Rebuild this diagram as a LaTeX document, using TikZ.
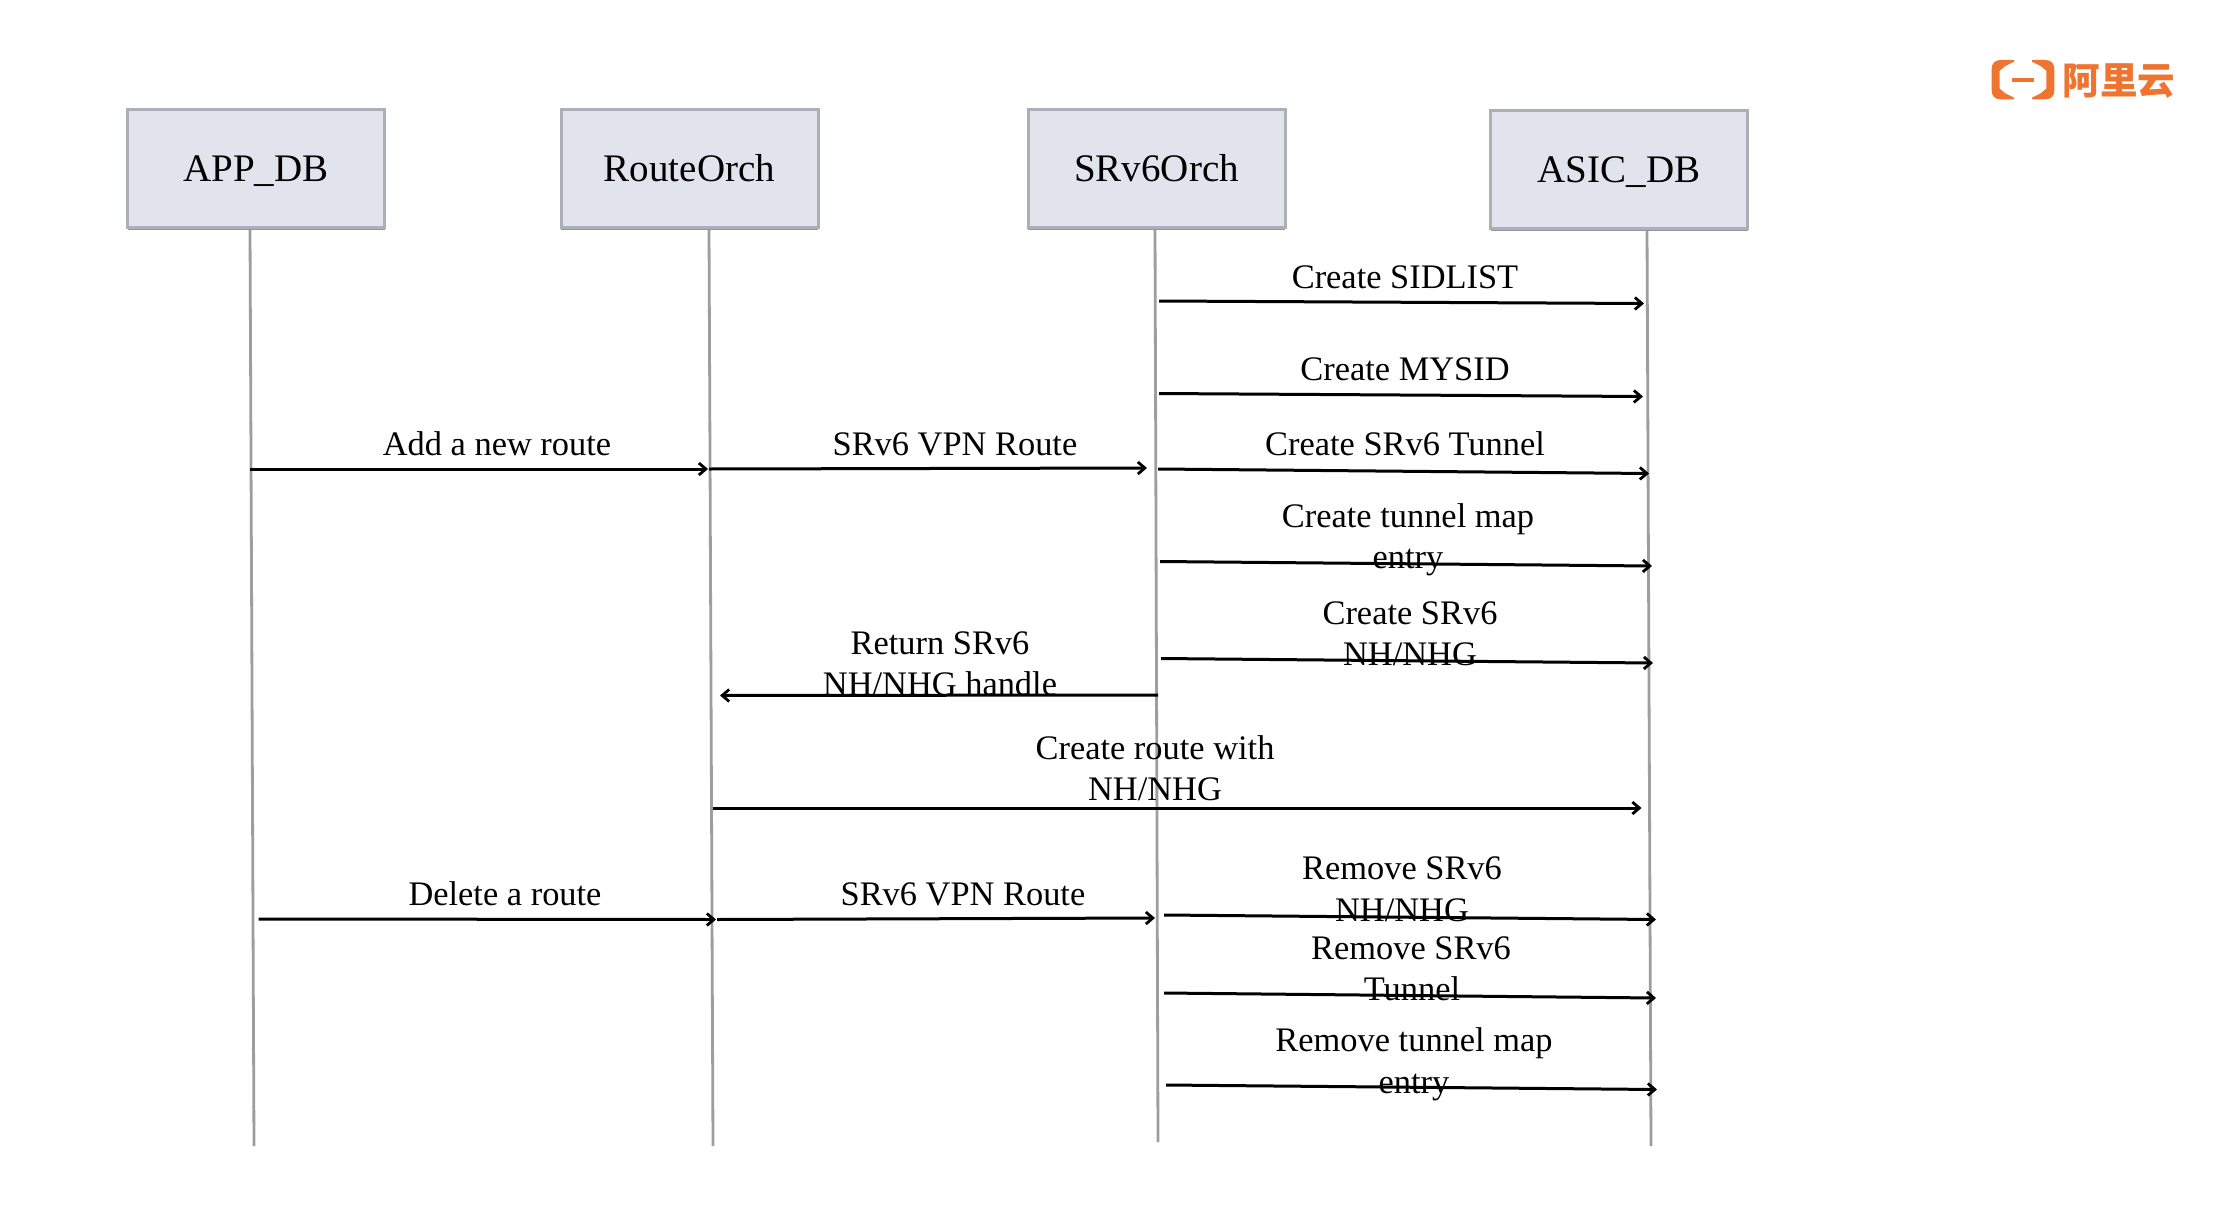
\documentclass[tikz,border=0pt]{standalone}
\usepackage{fontspec}
\setmainfont{Liberation Serif}
\newfontfamily\cjklogo{Noto Sans CJK SC}
\usetikzlibrary{arrows.meta,shadows}
\definecolor{boxfill}{HTML}{E1E4EC}
\definecolor{boxline}{HTML}{ABAFB8}
\definecolor{boxshade}{HTML}{9296A0}
\definecolor{lifeline}{HTML}{9E9E9E}
\definecolor{logoorange}{HTML}{EF7430}
\tikzset{
  actor/.style={draw=boxline,line width=3pt,fill=boxfill,minimum width=257pt,minimum height=118pt,
    inner sep=0pt,text height=34pt,text depth=8pt,font=\fontsize{39}{46}\selectfont,
    general shadow={shadow xshift=0pt,shadow yshift=-2.5pt,fill=boxshade}},
  life/.style={draw=lifeline,line width=2.8pt},
  msgarrow/.style={draw=black,line width=3pt,-{Straight Barb[length=7pt,width=12pt,line width=2.8pt]}},
  msg/.style={font=\fontsize{34.4}{41}\selectfont,inner sep=0pt,anchor=base,align=center,text=black},
  logoshape/.style={fill=logoorange,draw=none}
}
\begin{document}
\begin{tikzpicture}[x=1pt,y=-1pt]
\useasboundingbox (0,0) rectangle (2214,1226);
\fill[white] (0,0) rectangle (2214,1226);
% lifeline ends
\coordinate (lA1) at (250,228);  \coordinate (lA2) at (254,1146);
\coordinate (lR1) at (709,228);  \coordinate (lR2) at (713,1146);
\coordinate (lS1) at (1155,226); \coordinate (lS2) at (1158,1142);
\coordinate (lD1) at (1647,229); \coordinate (lD2) at (1651,1146);
\draw[life] (lA1) -- (lA2);
\draw[life] (lR1) -- (lR2);
\draw[life] (lS1) -- (lS2);
\draw[life] (lD1) -- (lD2);
% actors
\node[actor] (appdb) at (256,168) {APP\_DB};
\node[actor] (route) at (689.5,168) {RouteOrch};
\node[actor] (srv6) at (1156.5,168) {SRv6Orch};
\node[actor] (asic) at (1619,169) {ASIC\_DB};
% message end points
\coordinate (a1s) at (1159,301);  \coordinate (a1e) at (1644,303.5);
\coordinate (a2s) at (1159,393.5);  \coordinate (a2e) at (1643,396.5);
\coordinate (a3s) at (1158,469);  \coordinate (a3e) at (1649,473.5);
\coordinate (a4s) at (250,469);   \coordinate (a4e) at (708,469);
\coordinate (a5s) at (709,469);   \coordinate (a5e) at (1147,468);
\coordinate (a6s) at (1160,561.5);  \coordinate (a6e) at (1652,566);
\coordinate (a7s) at (1161,658.5);  \coordinate (a7e) at (1653,663);
\coordinate (a8s) at (1158,695);  \coordinate (a8e) at (720,695.5);
\coordinate (a9s) at (713,808);   \coordinate (a9e) at (1641.5,808);
\coordinate (a10s) at (258.5,919);  \coordinate (a10e) at (716,919.5);
\coordinate (a11s) at (717,919.5);  \coordinate (a11e) at (1155,918);
\coordinate (a12s) at (1164,915); \coordinate (a12e) at (1656,919.5);
\coordinate (a13s) at (1164,993); \coordinate (a13e) at (1656,998);
\coordinate (a14s) at (1166,1085);\coordinate (a14e) at (1657,1089.5);
\foreach \i in {1,...,14}{\draw[msgarrow] (a\i s) -- (a\i e);}
% labels
\node[msg] (t1) at (1405,288) {Create SIDLIST};
\node[msg] (t2) at (1405,380) {Create MYSID};
\node[msg] (t3) at (1405,455) {Create SRv6 Tunnel};
\node[msg] (t4) at (497,455) {Add a new route};
\node[msg] (t5) at (955,455) {SRv6 VPN Route};
\node[msg] (t6a) at (1408,527) {Create tunnel map};
\node[msg] (t6b) at (1408,568) {entry};
\node[msg] (t7a) at (1410,624) {Create SRv6};
\node[msg] (t7b) at (1410,665) {NH/NHG};
\node[msg] (t8a) at (940,654) {Return SRv6};
\node[msg] (t8b) at (940,695) {NH/NHG handle};
\node[msg] (t9a) at (1155,759) {Create route with};
\node[msg] (t9b) at (1155,800) {NH/NHG};
\node[msg] (t10) at (505,905) {Delete a route};
\node[msg] (t11) at (963,905) {SRv6 VPN Route};
\node[msg] (t12a) at (1402,879.5) {Remove SRv6};
\node[msg] (t12b) at (1402,921) {NH/NHG};
\node[msg] (t13a) at (1411,959) {Remove SRv6};
\node[msg] (t13b) at (1412,1000.5) {Tunnel};
\node[msg] (t14a) at (1414,1051) {Remove tunnel map};
\node[msg] (t14b) at (1414,1093) {entry};
% logo
\begin{scope}[shift={(1950,30)},x=0.3333pt,y=-0.3333pt]
\fill[logoshape] (152,90) .. controls (135,90) and (125,100) .. (125,117) -- (125,181)
  .. controls (125,198) and (135,208) .. (152,208) -- (192,208) -- (192,203) -- (166,190)
  -- (149,176) -- (149,122) -- (166,108) -- (192,95) -- (192,90) -- cycle;
\fill[logoshape] (286,90) .. controls (303,90) and (313,100) .. (313,117) -- (313,181)
  .. controls (313,198) and (303,208) .. (286,208) -- (246,208) -- (246,203) -- (272,190)
  -- (289,176) -- (289,122) -- (272,108) -- (246,95) -- (246,90) -- cycle;
\fill[logoshape] (187,143) rectangle (251,157);
\end{scope}
\node[inner sep=0pt,anchor=center,text=logoorange,font={\cjklogo\bfseries\fontsize{37.5}{38}\selectfont}] (logo) at (2119,81.5) {阿里云};
\end{tikzpicture}
\end{document}
